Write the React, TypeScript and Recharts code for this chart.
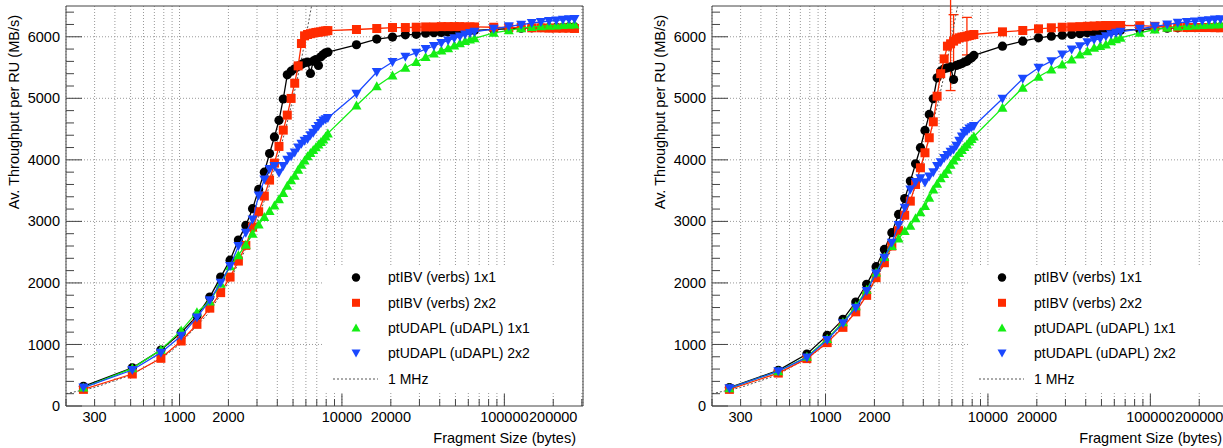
import React from 'react';
import { ScatterChart, Scatter, XAxis, YAxis, CartesianGrid, ReferenceLine, ReferenceArea, ErrorBar } from 'recharts';

// fragment sizes (bytes), shared by every series
const sizes = [
  256, 512, 768, 1024, 1280, 1536, 1792, 2048, 2304, 2560, 2816, 3072, 3328, 3584, 3840, 4096,
  4352, 4608, 4864, 5120, 5376, 5632, 5888, 6144, 6400, 6656, 6912, 7168, 7424, 7680, 7936, 8192,
  12288, 16384, 20480, 24576, 28672, 32768, 36864, 40960, 45056, 49152, 53248, 57344, 61440, 65536,
  86016, 106496, 126976, 147456, 167936, 188416, 208896, 229376, 249856, 270336,
];

// left panel (MB/s)
const verbs1x1Left = [
  320, 620, 910, 1192, 1465, 1770, 2095, 2370, 2696, 2935, 3206, 3520, 3800, 4103, 4373, 4643,
  4989, 5381, 5441, 5480, 5522, 5550, 5577, 5587, 5404, 5603, 5631, 5534, 5674, 5712, 5739, 5750,
  5870, 5962, 5995, 6032, 6040, 6058, 6065, 6070, 6076, 6085, 6090, 6095, 6100, 6105,
  6120, 6130, 6140, 6145, 6150, 6150, 6155, 6155, 6160, 6160,
];
const verbs2x2Left = [
  270, 520, 775, 1056, 1327, 1590, 1842, 2095, 2355, 2610, 2907, 3157, 3411, 3671, 3947, 4218,
  4483, 4727, 4998, 5245, 5527, 5890, 6015, 6037, 6050, 6060, 6070, 6075, 6080, 6090, 6095, 6100,
  6118, 6134, 6150, 6150, 6155, 6160, 6160, 6165, 6165, 6165, 6165, 6160, 6160, 6160,
  6155, 6150, 6150, 6145, 6145, 6140, 6140, 6140, 6140, 6135,
];
const udapl1x1Left = [
  300, 612, 915, 1225, 1525, 1700, 1985, 2270, 2450, 2620, 2800, 2950, 3070, 3170, 3260, 3360,
  3460, 3580, 3670, 3740, 3840, 3920, 3990, 4060, 4110, 4160, 4205, 4250, 4290, 4330, 4380, 4430,
  4884, 5197, 5371, 5496, 5590, 5670, 5730, 5775, 5815, 5860, 5895, 5930, 5955, 5975,
  6065, 6105, 6140, 6160, 6170, 6180, 6185, 6190, 6195, 6200,
];
const udapl2x2Left = [
  300, 585, 867, 1140, 1440, 1717, 2004, 2274, 2600, 2816, 3032, 3420, 3680, 3850, 3900, 3790,
  3900, 4000, 4060, 4120, 4200, 4260, 4310, 4340, 4400, 4440, 4500, 4550, 4600, 4640, 4660, 4680,
  5073, 5428, 5590, 5677, 5740, 5800, 5850, 5900, 5940, 5975, 6005, 6035, 6060, 6080,
  6130, 6170, 6195, 6225, 6240, 6255, 6265, 6275, 6285, 6290,
];

// right panel (MB/s)
const verbs1x1Right = [
  299, 580, 845, 1148, 1408, 1690, 1977, 2264, 2545, 2816, 3113, 3370, 3655, 3936, 4197, 4478,
  4738, 4993, 5333, 5441, 5480, 5496, 5510, 5306, 5534, 5550, 5566, 5590, 5603, 5640, 5660, 5697,
  5847, 5929, 5983, 6010, 6025, 6037, 6050, 6064, 6075, 6085, 6090, 6095, 6100, 6105,
  6120, 6130, 6140, 6145, 6150, 6150, 6155, 6155, 6160, 6160,
];
const verbs2x2Right = [
  270, 535, 770, 1030, 1278, 1530, 1798, 2085, 2328, 2600, 2850, 3100, 3329, 3600, 3871, 4115,
  4359, 4618, 5035, 5400, 5641, 5847, 5886, 5929, 5960, 5983, 5995, 6000, 6010, 6020, 6030, 6037,
  6080, 6102, 6129, 6146, 6155, 6160, 6165, 6170, 6175, 6180, 6183, 6183, 6183, 6183,
  6180, 6170, 6160, 6155, 6150, 6150, 6150, 6150, 6148, 6146,
];
const verbs2x2RightErr: [number, number][] = [[5888, 760], [6144, 430], [7424, 305]];
const udapl1x1Right = [
  290, 565, 800, 1090, 1360, 1620, 1890, 2170, 2420, 2600, 2720, 2842, 2930, 3050, 3150, 3249,
  3384, 3520, 3610, 3700, 3770, 3840, 3920, 3990, 4050, 4110, 4160, 4210, 4250, 4300, 4340, 4380,
  4845, 5170, 5350, 5468, 5550, 5631, 5712, 5766, 5821, 5850, 5875, 5929, 5960, 5983,
  6064, 6118, 6146, 6165, 6175, 6185, 6190, 6195, 6200, 6205,
];
const udapl2x2Right = [
  290, 565, 790, 1072, 1343, 1598, 1868, 2155, 2410, 2654, 2940, 3222, 3520, 3640, 3700, 3633,
  3730, 3800, 3900, 3960, 4030, 4080, 4130, 4170, 4230, 4310, 4380, 4440, 4470, 4510, 4530, 4550,
  4993, 5318, 5496, 5603, 5712, 5793, 5847, 5912, 5950, 5967, 6010, 6040, 6064, 6080,
  6129, 6170, 6199, 6226, 6240, 6250, 6260, 6270, 6280, 6285,
];

// 1 MHz reference line
const mhzSizes = [200, 300, 500, 800, 1000, 1500, 2000, 2500, 3000, 3500, 4000, 4500, 5000, 5500, 6000, 6500, 7000];
const mhzRates = [200, 300, 500, 800, 1000, 1500, 2000, 2500, 3000, 3500, 4000, 4500, 5000, 5500, 6000, 6500, 7000];

const xTicks = [
  200, 300, 400, 500, 600, 700, 800, 900,
  1000, 2000, 3000, 4000, 5000, 6000, 7000, 8000, 9000,
  10000, 20000, 30000, 40000, 50000, 60000, 70000, 80000, 90000,
  100000, 200000, 300000,
];
const xLabels = [300, 1000, 2000, 10000, 20000, 100000, 200000];
const yTicks = [
  0, 200, 400, 600, 800, 1000, 1200, 1400, 1600, 1800, 2000, 2200, 2400, 2600, 2800, 3000, 3200,
  3400, 3600, 3800, 4000, 4200, 4400, 4600, 4800, 5000, 5200, 5400, 5600, 5800, 6000, 6200, 6400,
];
const yGrid = [1000, 2000, 3000, 4000, 5000, 6000];

const legendNames = ['ptIBV (verbs) 1x1', 'ptIBV (verbs) 2x2', 'ptUDAPL (uDAPL) 1x1', 'ptUDAPL (uDAPL) 2x2', '1 MHz'];

const FONT = '"Liberation Sans", Arial, Helvetica, sans-serif';
const FS = 14.5;
const BLACK = '#000000';
const RED = '#ff2b00';
const GREEN = '#14ee14';
const BLUE = '#1a48ff';
const AXIS = '#444';
const GRID = '#999';
const X_MIN = 200;
const X_MAX = 305000;

const XTick = (props: any) => {
  const { x, y, payload } = props;
  const v = payload.value;
  const major = v === 1000 || v === 10000 || v === 100000;
  return (
    <g>
      <line x1={x} x2={x} y1={y} y2={y - (major ? 12 : 7)} stroke={AXIS} />
      {xLabels.includes(v) && (
        <text x={x} y={y + 16} textAnchor="middle" fontSize={FS} fontFamily={FONT} fill="#000">{v}</text>
      )}
    </g>
  );
};

const YTick = (props: any) => {
  const { x, y, payload } = props;
  const v = payload.value;
  const major = v % 1000 === 0;
  return (
    <g>
      <line x1={x} x2={x + (major ? 16 : 8)} y1={y} y2={y} stroke={AXIS} />
      {major && (
        <text x={x - 6} y={y} dy="0.35em" textAnchor="end" fontSize={FS} fontFamily={FONT} fill="#000">{v}</text>
      )}
    </g>
  );
};

const XTitle = () => (
  <text x={576} y={443} textAnchor="end" fontSize={FS} fontFamily={FONT} fill="#000">Fragment Size (bytes)</text>
);

const YTitle = () => (
  <text x={14} y={15} transform="rotate(-90 14 15)" textAnchor="end" dominantBaseline="central"
    fontSize={FS} fontFamily={FONT} fill="#000">Av. Throughput per RU (MB/s)</text>
);

const circleShape = (p: any) => <circle cx={p.cx} cy={p.cy} r={4.6} fill={BLACK} />;
const squareShape = (p: any) => <rect x={p.cx - 4.5} y={p.cy - 4.5} width={9} height={9} fill={RED} />;
const triUpShape = (p: any) => (
  <polygon points={`${p.cx},${p.cy - 5} ${p.cx + 5},${p.cy + 4} ${p.cx - 5},${p.cy + 4}`} fill={GREEN} />
);
const triDownShape = (p: any) => (
  <polygon points={`${p.cx - 5},${p.cy - 4} ${p.cx + 5},${p.cy - 4} ${p.cx},${p.cy + 5}`} fill={BLUE} />
);
const noShape = () => <g />;

const toPoints = (ys: number[], errs: [number, number][] = []) =>
  sizes.map((x, i) => {
    const e = errs.find((d) => d[0] === x);
    return { x, y: ys[i], err: e ? e[1] : 0 };
  });

const mhzData = mhzSizes.map((x, i) => ({ x, y: mhzRates[i] }));

const Legend = () => (
  <div style={{ position: 'absolute', left: 323, top: 265, width: 259, height: 127, background: '#fff' }}>
    <svg width={259} height={127}>
      <circle cx={33} cy={12.5} r={4.2} fill={BLACK} />
      <rect x={29} y={33.8} width={8} height={8} fill={RED} />
      <polygon points="33,58.5 37.5,66.5 28.5,66.5" fill={GREEN} />
      <polygon points="28.5,84.5 37.5,84.5 33,92.5" fill={BLUE} />
      <line x1={10} x2={55} y1={114} y2={114} stroke="#555" strokeDasharray="2 2" />
      {legendNames.map((n, i) => (
        <text key={n} x={65} y={[12.5, 37.8, 62.8, 88.3, 114][i]} dy="0.35em" fontSize={14} fontFamily={FONT} fill="#000">{n}</text>
      ))}
    </svg>
  </div>
);

const Panel = ({ left, b1, r2, g1, u2, rErr }: any) => (
  <div style={{ position: 'absolute', left, top: 0, width: 600, height: 448 }}>
    <ScatterChart width={600} height={448} margin={{ top: 6, right: 17, bottom: 0, left: 0 }}>
      <CartesianGrid horizontal={false} stroke={GRID} strokeDasharray="1 2" />
      {yGrid.map((v) => (
        <ReferenceLine key={v} y={v} stroke={GRID} strokeDasharray="1 2" />
      ))}
      <XAxis type="number" dataKey="x" scale="log" domain={[X_MIN, X_MAX]} allowDataOverflow
        ticks={xTicks} interval={0} tick={<XTick />} tickSize={0} tickMargin={0} tickLine={false}
        axisLine={false} height={42} label={<XTitle />} />
      <YAxis type="number" dataKey="y" domain={[0, 6500]} allowDataOverflow ticks={yTicks} interval={0}
        tick={<YTick />} tickSize={0} tickMargin={0} tickLine={false} axisLine={false} width={66}
        label={<YTitle />} />
      <Scatter data={mhzData} shape={noShape} line={{ stroke: '#555', strokeDasharray: '2 2', strokeWidth: 1 }}
        isAnimationActive={false} />
      <Scatter data={toPoints(b1)} shape={circleShape} line={{ stroke: BLACK, strokeWidth: 1.3 }}
        isAnimationActive={false} />
      <Scatter data={toPoints(r2, rErr)} shape={squareShape} line={{ stroke: RED, strokeWidth: 1.3 }}
        isAnimationActive={false}>
        <ErrorBar dataKey="err" direction="y" stroke={RED} strokeWidth={1.3} width={5} />
      </Scatter>
      <Scatter data={toPoints(g1)} shape={triUpShape} line={{ stroke: GREEN, strokeWidth: 1.3 }}
        isAnimationActive={false} />
      <Scatter data={toPoints(u2)} shape={triDownShape} line={{ stroke: BLUE, strokeWidth: 1.3 }}
        isAnimationActive={false} />
      <ReferenceArea x1={X_MIN} x2={X_MAX} y1={0} y2={6500} fill="none" stroke={AXIS} ifOverflow="visible" />
    </ScatterChart>
    <Legend />
  </div>
);

export default function App() {
  return (
    <div style={{ position: 'absolute', left: 0, top: 0, width: 1223, height: 448, overflow: 'hidden', background: '#fff' }}>
      <Panel left={0} b1={verbs1x1Left} r2={verbs2x2Left} g1={udapl1x1Left} u2={udapl2x2Left} />
      <Panel left={646} b1={verbs1x1Right} r2={verbs2x2Right} g1={udapl1x1Right} u2={udapl2x2Right} rErr={verbs2x2RightErr} />
    </div>
  );
}
